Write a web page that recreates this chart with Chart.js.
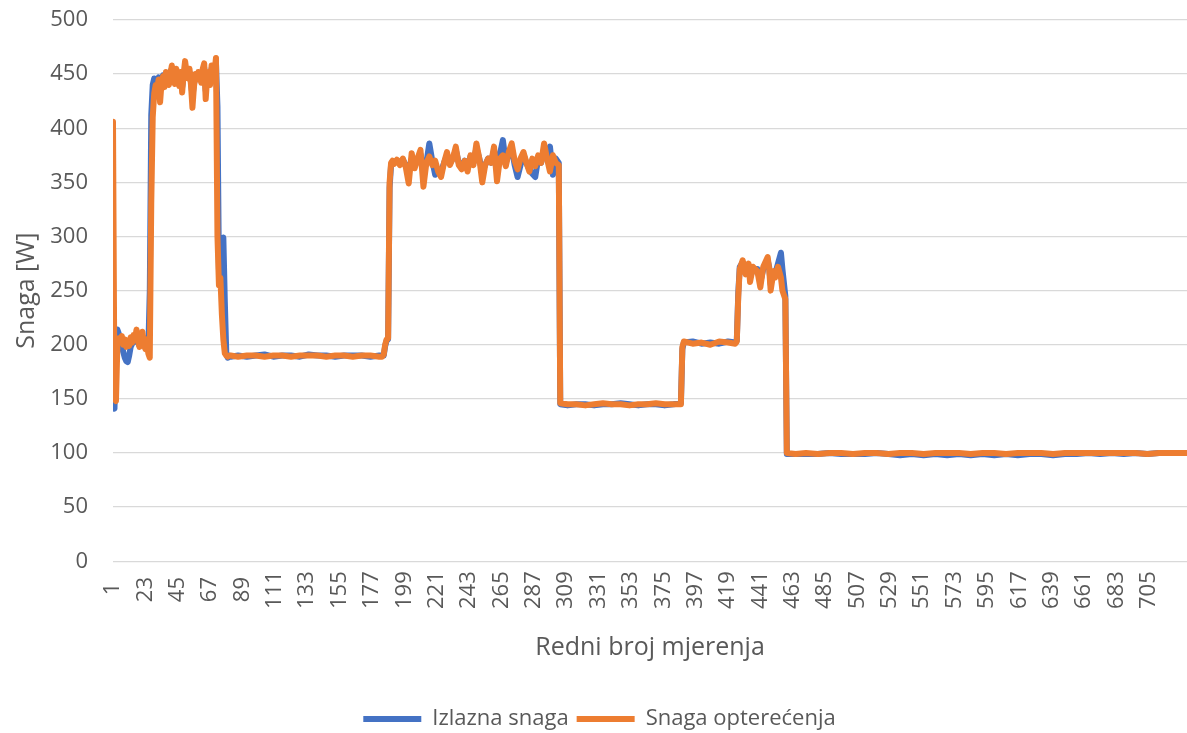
<!DOCTYPE html>
<html>
<head>
<meta charset="utf-8">
<script src="https://cdn.jsdelivr.net/npm/chart.js@4/dist/chart.umd.min.js"></script>
<style>
  html, body { margin: 0; padding: 0; background: #ffffff; }
  #wrap { width: 1187px; height: 733px; position: relative; }
</style>
</head>
<body>
<div id="wrap"><canvas id="chart"></canvas></div>
<script>
// redni broj mjerenja (x) for every read point
const mjerenje = [
  1, 2, 3, 4, 5, 6, 7, 8, 9, 10, 11, 12, 13, 14, 15, 16, 17, 18, 19, 20,
  21, 22, 23, 24, 25, 26, 27, 28, 29, 30,
  31, 32, 33, 34, 35, 36, 37, 38, 39, 40, 41, 42, 43, 44, 45, 46, 47, 48, 49, 50,
  51, 52, 53, 54, 55, 56, 57, 58, 59, 60, 61, 62, 63, 64, 65, 66, 67, 68, 69, 70, 71,
  72, 73, 74, 75, 76, 77, 78, 79, 80,
  81, 86, 92, 98, 104, 110, 116, 122, 128, 134, 140, 146, 152, 158, 164, 170, 176, 182,
  184, 185, 186, 187, 188, 189, 190, 191,
  192, 194, 196, 198, 200, 202, 204, 206, 208, 210, 212, 214, 216, 218, 220, 222, 224, 226, 228, 230,
  232, 234, 236, 238, 240, 242, 244, 246, 248, 250, 252, 254, 256, 258, 260, 262, 264, 266, 268, 270,
  272, 274, 276, 278, 280, 282, 284, 286, 288, 290, 292, 294, 296, 298, 300, 302, 304,
  305, 310, 316, 322, 328, 334, 340, 346, 352, 358, 364, 370, 376, 382, 387,
  388, 389, 395, 401, 407, 413, 419, 424, 425, 426, 427,
  429, 431, 433, 434, 436, 439, 441, 443, 446, 447, 448, 450, 451, 453, 455, 456, 458, 459,
  465, 472, 480, 488, 496, 504, 512, 520, 528, 536, 544, 552, 560, 568, 576, 584, 592, 600, 608, 616,
  624, 632, 640, 648, 656, 664, 672, 680, 688, 696, 704, 712, 720, 731
];

// Izlazna snaga [W]
const izlaznaSnaga = [
  143, 141, 190, 214, 210, 205, 200, 193, 188, 185, 184, 190, 198, 201, 204, 203, 208, 202, 199, 204,
  208, 201, 198, 204, 196, 250, 412, 440, 446, 445,
  445, 447, 440, 444, 449, 445, 450, 447, 445, 452, 455, 448, 445, 452, 450, 440, 448, 438, 448, 456,
  450, 447, 452, 443, 430, 440, 449, 446, 450, 447, 444, 452, 456, 435, 446, 450, 443, 455, 446, 450, 460,
  420, 270, 265, 290, 299, 240, 192, 188, 190,
  189, 190, 189, 190, 191, 189, 190, 190, 189, 191, 190, 190, 189, 190, 190, 190, 189, 190,
  190, 190, 199, 204, 205, 345, 366, 369,
  368, 370, 368, 371, 366, 360, 372, 366, 370, 376, 360, 368, 386, 370, 357, 362, 360, 368, 375, 368,
  372, 380, 368, 365, 370, 364, 374, 368, 382, 372, 360, 366, 372, 368, 380, 362, 376, 389, 368, 376,
  382, 366, 355, 366, 376, 368, 362, 358, 355, 372, 368, 380, 374, 383, 357, 372, 368,
  145, 144, 145, 145, 144, 145, 145, 146, 145, 144, 145, 145, 144, 145, 146,
  196, 202, 203, 201, 202, 201, 203, 202, 204, 248, 272,
  276, 268, 273, 262, 270, 270, 258, 270, 278, 272, 256, 266, 265, 275, 285, 270, 245, 99,
  99, 99, 99, 100, 99, 99, 99, 100, 99, 98, 99, 98, 99, 98, 99, 98, 99, 98, 99, 98,
  99, 99, 98, 99, 99, 100, 99, 100, 99, 100, 99, 100, 100, 100
];

// Snaga opterećenja [W]
const snagaOpterecenja = [
  406, 150, 148, 200, 206, 203, 208, 200, 205, 198, 204, 199, 207, 202, 209, 206, 214, 203, 198, 206,
  212, 200, 196, 205, 192, 188, 330, 410, 432, 440,
  436, 445, 424, 442, 448, 438, 452, 444, 440, 450, 458, 446, 441, 455, 447, 439, 452, 433, 450, 462,
  452, 446, 455, 440, 419, 438, 450, 445, 452, 448, 442, 455, 460, 427, 446, 452, 440, 458, 445, 452, 465,
  300, 255, 262, 228, 205, 192, 190, 189, 190,
  190, 189, 190, 190, 189, 190, 190, 189, 190, 190, 190, 189, 190, 190, 189, 190, 190, 189,
  189, 191, 200, 205, 206, 350, 368, 370,
  367, 371, 366, 372, 364, 349, 377, 363, 372, 380, 346, 368, 374, 366, 370, 360, 355, 368, 378, 366,
  372, 383, 366, 362, 370, 360, 375, 366, 386, 372, 350, 366, 372, 368, 383, 351, 372, 375, 365, 378,
  386, 370, 362, 372, 378, 368, 360, 372, 365, 375, 368, 386, 372, 360, 375, 368, 366,
  146, 145, 145, 144, 145, 146, 145, 145, 144, 145, 145, 146, 145, 145, 145,
  198, 203, 201, 202, 200, 203, 202, 201, 203, 245, 270,
  278, 265, 275, 258, 272, 268, 253, 272, 281, 270, 250, 268, 262, 272, 262, 250, 242, 100,
  99, 100, 99, 100, 100, 99, 100, 100, 99, 100, 100, 99, 100, 100, 100, 99, 100, 100, 99, 100,
  100, 100, 99, 100, 100, 100, 100, 100, 100, 100, 99, 100, 100, 100
];

// x-axis tick labels shown under the chart
const xOznake = [1, 23, 45, 67, 89, 111, 133, 155, 177, 199, 221, 243, 265, 287, 309, 331, 353,
  375, 397, 419, 441, 463, 485, 507, 529, 551, 573, 595, 617, 639, 661, 683, 705];

const sivaSlova = "#595959";
const tickFont = { family: "'Open Sans', sans-serif", size: 22 };
const titleFont = { family: "'Open Sans', sans-serif", size: 25 };

const toPoints = (vals) => vals.map((v, i) => ({ x: mjerenje[i], y: v }));

const ctx = document.getElementById("chart").getContext("2d");
new Chart(ctx, {
  type: "line",
  data: {
    datasets: [
      {
        // first in the list so it is painted on top of the blue line
        label: "Snaga opterećenja",
        data: toPoints(snagaOpterecenja),
        borderColor: "#ed7d31",
        backgroundColor: "#ed7d31",
        pointStyle: "line",
        pointBorderWidth: 6,
      },
      {
        label: "Izlazna snaga",
        data: toPoints(izlaznaSnaga),
        borderColor: "#4472c4",
        backgroundColor: "#4472c4",
        pointStyle: "line",
        pointBorderWidth: 6,
      },
    ],
  },
  options: {
    responsive: true,
    maintainAspectRatio: false,
    animation: false,
    layout: { padding: { left: 12, right: 0, top: 0, bottom: -7 } },
    elements: {
      line: { borderWidth: 6, tension: 0, borderJoinStyle: "round", borderCapStyle: "round" },
      point: { radius: 0, hoverRadius: 0 },
    },
    plugins: {
      tooltip: { enabled: false },
      legend: {
        position: "bottom",
        labels: {
          usePointStyle: true,
          pointStyle: "line",
          pointStyleWidth: 58,
          font: tickFont,
          color: sivaSlova,
          padding: 8,
          sort: (a, b) => b.datasetIndex - a.datasetIndex,
        },
      },
    },
    scales: {
      x: {
        type: "linear",
        min: 1,
        max: 731,
        afterBuildTicks: (scale) => {
          scale.ticks = xOznake.map((v) => ({ value: v }));
        },
        ticks: {
          autoSkip: false,
          minRotation: 90,
          maxRotation: 90,
          padding: 10,
          color: sivaSlova,
          font: tickFont,
          // pad short labels so they sit centred like the three-digit ones
          callback: (v) => String(v).padEnd(3, " "),
        },
        grid: { display: false, drawTicks: false },
        border: { display: false },
        title: {
          display: true,
          text: "Redni broj mjerenja",
          color: sivaSlova,
          font: titleFont,
          padding: { top: 14, bottom: 37 },
        },
      },
      y: {
        min: 0,
        max: 500,
        afterFit: (scale) => {
          scale.width = 101;
          // tick padding would otherwise be added above the 500 line too
          scale.paddingTop = 20;
        },
        ticks: { stepSize: 50, padding: 25, color: sivaSlova, font: tickFont },
        grid: { color: "#d9d9d9", lineWidth: 1.3, drawTicks: false },
        border: { display: false },
        title: {
          display: true,
          text: "Snaga [W]",
          color: sivaSlova,
          font: titleFont,
          padding: { top: 0, bottom: 0 },
        },
      },
    },
  },
});
</script>
</body>
</html>
